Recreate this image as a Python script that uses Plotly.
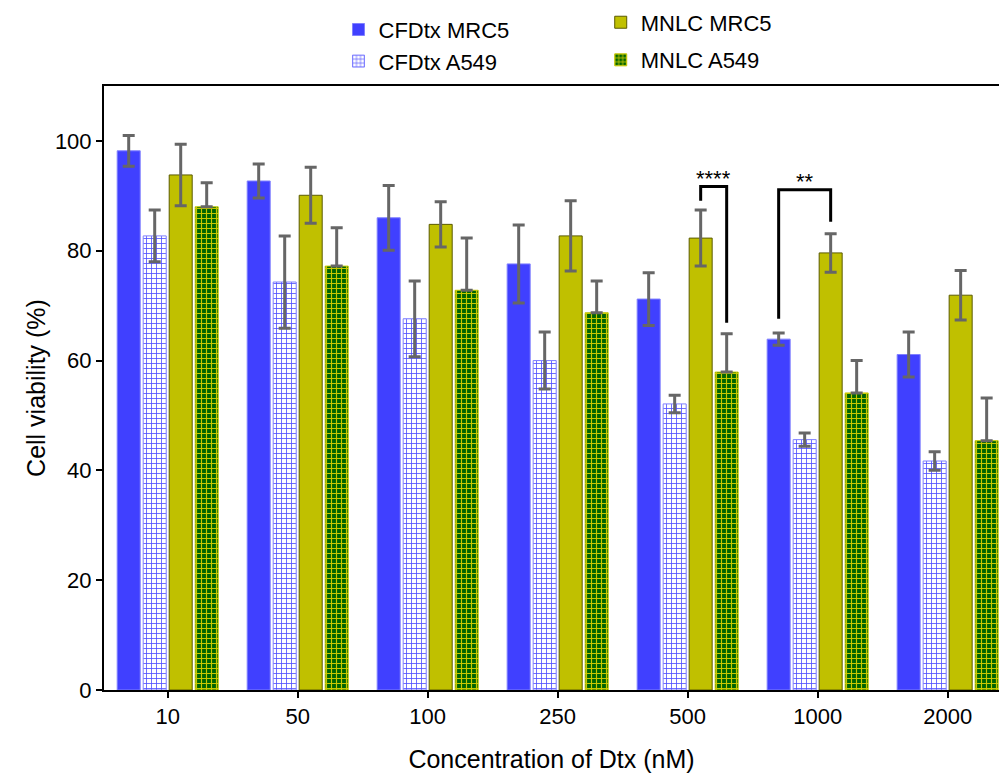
import plotly.graph_objects as go

categories = ["10", "50", "100", "250", "500", "1000", "2000"]

cfdtx_mrc5 = [98.2, 92.7, 86.0, 77.6, 71.2, 63.9, 61.1]
cfdtx_mrc5_err = [2.8, 3.1, 5.9, 7.1, 4.8, 1.1, 4.1]

cfdtx_a549 = [82.7, 74.3, 67.6, 60.0, 52.1, 45.6, 41.7]
cfdtx_a549_err = [4.7, 8.4, 6.9, 5.2, 1.6, 1.2, 1.7]

mnlc_mrc5 = [93.8, 90.1, 84.8, 82.7, 82.3, 79.6, 71.9]
mnlc_mrc5_err = [5.6, 5.1, 4.1, 6.4, 5.1, 3.5, 4.5]

mnlc_a549 = [88.0, 77.2, 72.8, 68.7, 57.9, 54.1, 45.4]
mnlc_a549_err = [4.4, 7.0, 9.5, 5.8, 7.0, 5.9, 7.8]

y_ticks = [0, 20, 40, 60, 80, 100]

FONT = "Liberation Sans, Arial, sans-serif"
ERR = dict(type="data", color="#666666", thickness=3, width=6)

fig = go.Figure()

fig.add_trace(go.Bar(
    name="CFDtx MRC5", x=categories, y=cfdtx_mrc5,
    marker=dict(color="#4040ff", line=dict(color="#8080ff", width=1)),
    error_y=dict(array=cfdtx_mrc5_err, **ERR),
    legend="legend", legendgroup="a",
))
fig.add_trace(go.Bar(
    name="CFDtx A549", x=categories, y=cfdtx_a549,
    marker=dict(color="#ffffff", line=dict(color="#8080ff", width=1),
                pattern=dict(shape="+", fgcolor="#5050ff", bgcolor="#ffffff",
                             size=5, solidity=0.3, fillmode="replace")),
    error_y=dict(array=cfdtx_a549_err, **ERR),
    legend="legend", legendgroup="b",
))
fig.add_trace(go.Bar(
    name="MNLC MRC5", x=categories, y=mnlc_mrc5,
    marker=dict(color="#c0c000", line=dict(color="#5a5a00", width=1)),
    error_y=dict(array=mnlc_mrc5_err, **ERR),
    legend="legend2", legendgroup="c",
))
fig.add_trace(go.Bar(
    name="MNLC A549", x=categories, y=mnlc_a549,
    marker=dict(color="#006400", line=dict(color="#c8c800", width=1),
                pattern=dict(shape="+", fgcolor="#c8c800", bgcolor="#006400",
                             size=5, solidity=0.4, fillmode="replace")),
    error_y=dict(array=mnlc_a549_err, arrayminus=[0] * len(mnlc_a549_err), symmetric=False, **ERR),
    legend="legend2", legendgroup="d",
))

# significance brackets (category index + bar offset)
brackets = [
    dict(x0=4.1, x1=4.3, y0=89.1, y1=66.9, top=91.7, text="****"),
    dict(x0=4.7, x1=5.1, y0=67.6, y1=85.3, top=91.1, text="**"),
]
for b in brackets:
    fig.add_shape(type="path", xref="x", yref="y",
                  path=f"M {b['x0']},{b['y0']} L {b['x0']},{b['top']} L {b['x1']},{b['top']} L {b['x1']},{b['y1']}",
                  line=dict(color="black", width=3))
    fig.add_annotation(x=(b["x0"] + b["x1"]) / 2, y=b["top"] - 1.2, xref="x", yref="y",
                       text=b["text"], showarrow=False, yanchor="bottom",
                       font=dict(family=FONT, size=22, color="black"))

fig.update_layout(
    width=999, height=773,
    margin=dict(l=104, r=0, t=86, b=83),
    paper_bgcolor="white", plot_bgcolor="white",
    barmode="group", bargap=0.2, bargroupgap=0.115,
    font=dict(family=FONT, color="black"),
    legend=dict(x=0.262, y=1.128, xanchor="left", yanchor="top",
                font=dict(family=FONT, size=22), tracegroupgap=0,
                bgcolor="rgba(0,0,0,0)"),
    legend2=dict(x=0.555, y=1.14, xanchor="left", yanchor="top",
                 font=dict(family=FONT, size=22), tracegroupgap=6,
                 bgcolor="rgba(0,0,0,0)"),
    xaxis=dict(
        range=[-0.49, 6.395], showline=True, linecolor="black", linewidth=2,
        mirror=True, ticks="outside", ticklen=6, tickwidth=2, tickcolor="black",
        tickfont=dict(family=FONT, size=22), showgrid=False,
        title=dict(text="Concentration of Dtx (nM)", font=dict(family=FONT, size=25), standoff=22),
    ),
    yaxis=dict(
        range=[0, 110], tickvals=y_ticks, showline=True, linecolor="black", linewidth=2,
        ticks="outside", ticklen=6, tickwidth=2, tickcolor="black",
        tickfont=dict(family=FONT, size=22), showgrid=False, zeroline=False,
        title=dict(text="Cell viability (%)", font=dict(family=FONT, size=25), standoff=2),
    ),
)

fig.write_html("out.html")
